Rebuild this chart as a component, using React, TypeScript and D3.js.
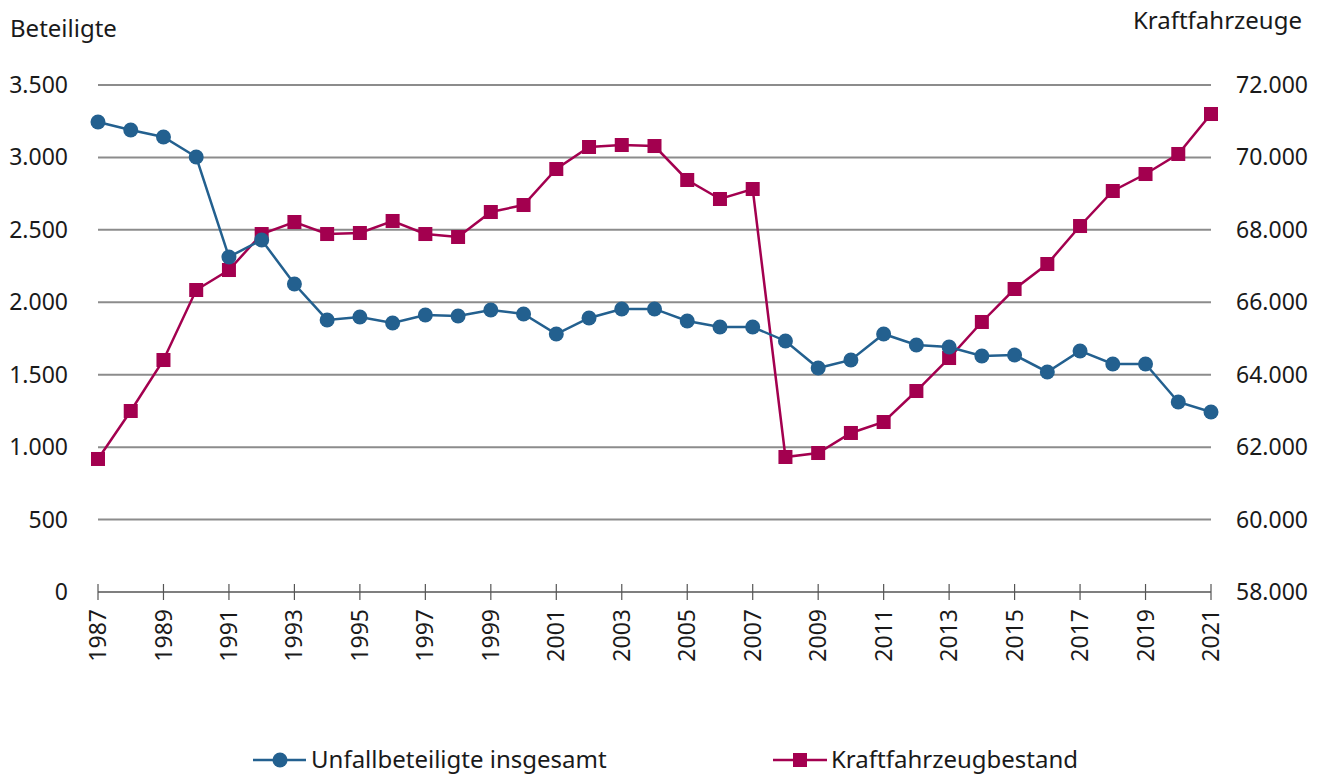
import React, { useRef, useEffect } from 'react';
import * as d3 from 'd3';

const years = d3.range(1987, 2022);

const beteiligte = [
  3245, 3189, 3141, 3003, 2313, 2430, 2126, 1878, 1898, 1857,
  1912, 1905, 1947, 1919, 1781, 1892, 1954, 1954, 1871, 1829,
  1829, 1733, 1546, 1602, 1781, 1705, 1691, 1629, 1636, 1519,
  1664, 1574, 1574, 1312, 1243,
];

const kfzBestand = [
  61673, 62998, 64406, 66339, 66891, 67885, 68217, 67885, 67913, 68245,
  67885, 67803, 68493, 68686, 69680, 70288, 70343, 70315, 69377, 68852,
  69128, 61728, 61838, 62391, 62694, 63550, 64461, 65456, 66367, 67057,
  68106, 69073, 69542, 70095, 71199,
];

const leftTicks = [0, 500, 1000, 1500, 2000, 2500, 3000, 3500];
const rightTicks = [58000, 60000, 62000, 64000, 66000, 68000, 70000, 72000];

const BLUE = '#23608f';
const RED = '#a3004f';

const width = 1323;
const height = 776;
const margin = { left: 98, right: 112, top: 85, bottom: 184 };

const fmt = (v: number) => d3.format(',')(v).replace(/,/g, '.');

const App: React.FC = () => {
  const svgRef = useRef<SVGSVGElement | null>(null);

  useEffect(() => {
    if (!svgRef.current) return;
    const svg = d3.select(svgRef.current);
    svg.selectAll('*').remove();

    const x = d3.scaleLinear()
      .domain([1987, 2021])
      .range([margin.left, width - margin.right]);
    const yL = d3.scaleLinear().domain([0, 3500]).range([height - margin.bottom, margin.top]);
    const yR = d3.scaleLinear().domain([58000, 72000]).range([height - margin.bottom, margin.top]);

    const font = "'Noto Sans', sans-serif";
    const fs = 23;

    // gridlines
    svg.append('g')
      .selectAll('line')
      .data(leftTicks.slice(1))
      .join('line')
      .attr('x1', margin.left)
      .attr('x2', width - margin.right)
      .attr('y1', d => yL(d))
      .attr('y2', d => yL(d))
      .attr('stroke', '#8c8c8c')
      .attr('stroke-width', 2);

    // left tick labels
    svg.append('g')
      .selectAll('text')
      .data(leftTicks)
      .join('text')
      .attr('x', 68)
      .attr('y', d => yL(d))
      .attr('dy', '0.35em')
      .attr('text-anchor', 'end')
      .attr('font-family', font)
      .attr('font-size', fs)
      .attr('fill', '#1a1a1a')
      .text(d => fmt(d));

    // right tick labels
    svg.append('g')
      .selectAll('text')
      .data(rightTicks)
      .join('text')
      .attr('x', 1236)
      .attr('y', d => yR(d))
      .attr('dy', '0.35em')
      .attr('text-anchor', 'start')
      .attr('font-family', font)
      .attr('font-size', fs)
      .attr('fill', '#1a1a1a')
      .text(d => fmt(d));

    // axis titles
    svg.append('text')
      .attr('x', 10)
      .attr('y', 37)
      .attr('font-family', font)
      .attr('font-size', 24)
      .attr('fill', '#1a1a1a')
      .text('Beteiligte');
    svg.append('text')
      .attr('x', 1302)
      .attr('y', 29)
      .attr('text-anchor', 'end')
      .attr('font-family', font)
      .attr('font-size', 24)
      .attr('fill', '#1a1a1a')
      .text('Kraftfahrzeuge');

    // x axis
    const y0 = yL(0);
    svg.append('line')
      .attr('x1', margin.left)
      .attr('x2', width - margin.right)
      .attr('y1', y0)
      .attr('y2', y0)
      .attr('stroke', '#000')
      .attr('stroke-width', 1.2);

    const labelYears = years.filter(y => (y - 1987) % 2 === 0);
    svg.append('g')
      .selectAll('line')
      .data(labelYears)
      .join('line')
      .attr('x1', d => x(d))
      .attr('x2', d => x(d))
      .attr('y1', y0 - 8)
      .attr('y2', y0 + 8)
      .attr('stroke', '#555')
      .attr('stroke-width', 1.2);

    svg.append('g')
      .selectAll('text')
      .data(labelYears)
      .join('text')
      .attr('transform', d => `translate(${x(d)},${y0 + 17}) rotate(-90)`)
      .attr('dy', '0.35em')
      .attr('text-anchor', 'end')
      .attr('font-family', font)
      .attr('font-size', fs)
      .attr('fill', '#1a1a1a')
      .text(d => String(d));

    // series
    const lineL = d3.line<number>().x((_, i) => x(years[i])).y(d => yL(d));
    const lineR = d3.line<number>().x((_, i) => x(years[i])).y(d => yR(d));

    svg.append('path')
      .datum(kfzBestand)
      .attr('fill', 'none')
      .attr('stroke', RED)
      .attr('stroke-width', 2.5)
      .attr('d', lineR);
    svg.append('g')
      .selectAll('rect')
      .data(kfzBestand)
      .join('rect')
      .attr('x', (_, i) => x(years[i]) - 7)
      .attr('y', d => yR(d) - 7)
      .attr('width', 14)
      .attr('height', 14)
      .attr('fill', RED);

    svg.append('path')
      .datum(beteiligte)
      .attr('fill', 'none')
      .attr('stroke', BLUE)
      .attr('stroke-width', 2.5)
      .attr('d', lineL);
    svg.append('g')
      .selectAll('circle')
      .data(beteiligte)
      .join('circle')
      .attr('cx', (_, i) => x(years[i]))
      .attr('cy', d => yL(d))
      .attr('r', 7.5)
      .attr('fill', BLUE);

    // legend
    const ly = 760;
    const leg = svg.append('g');
    leg.append('line').attr('x1', 253).attr('x2', 306).attr('y1', ly).attr('y2', ly)
      .attr('stroke', BLUE).attr('stroke-width', 2.5);
    leg.append('circle').attr('cx', 280).attr('cy', ly).attr('r', 7.5).attr('fill', BLUE);
    leg.append('text').attr('x', 311).attr('y', ly).attr('dy', '0.35em')
      .attr('font-family', font).attr('font-size', 24).attr('fill', '#1a1a1a')
      .text('Unfallbeteiligte insgesamt');

    leg.append('line').attr('x1', 773).attr('x2', 827).attr('y1', ly).attr('y2', ly)
      .attr('stroke', RED).attr('stroke-width', 2.5);
    leg.append('rect').attr('x', 793).attr('y', ly - 7).attr('width', 14).attr('height', 14).attr('fill', RED);
    leg.append('text').attr('x', 831).attr('y', ly).attr('dy', '0.35em')
      .attr('font-family', font).attr('font-size', 24).attr('fill', '#1a1a1a')
      .text('Kraftfahrzeugbestand');
  }, []);

  return (
    <svg
      ref={svgRef}
      width={width}
      height={height}
      style={{ position: 'absolute', left: 0, top: 0, background: '#fff' }}
    />
  );
};

export default App;
